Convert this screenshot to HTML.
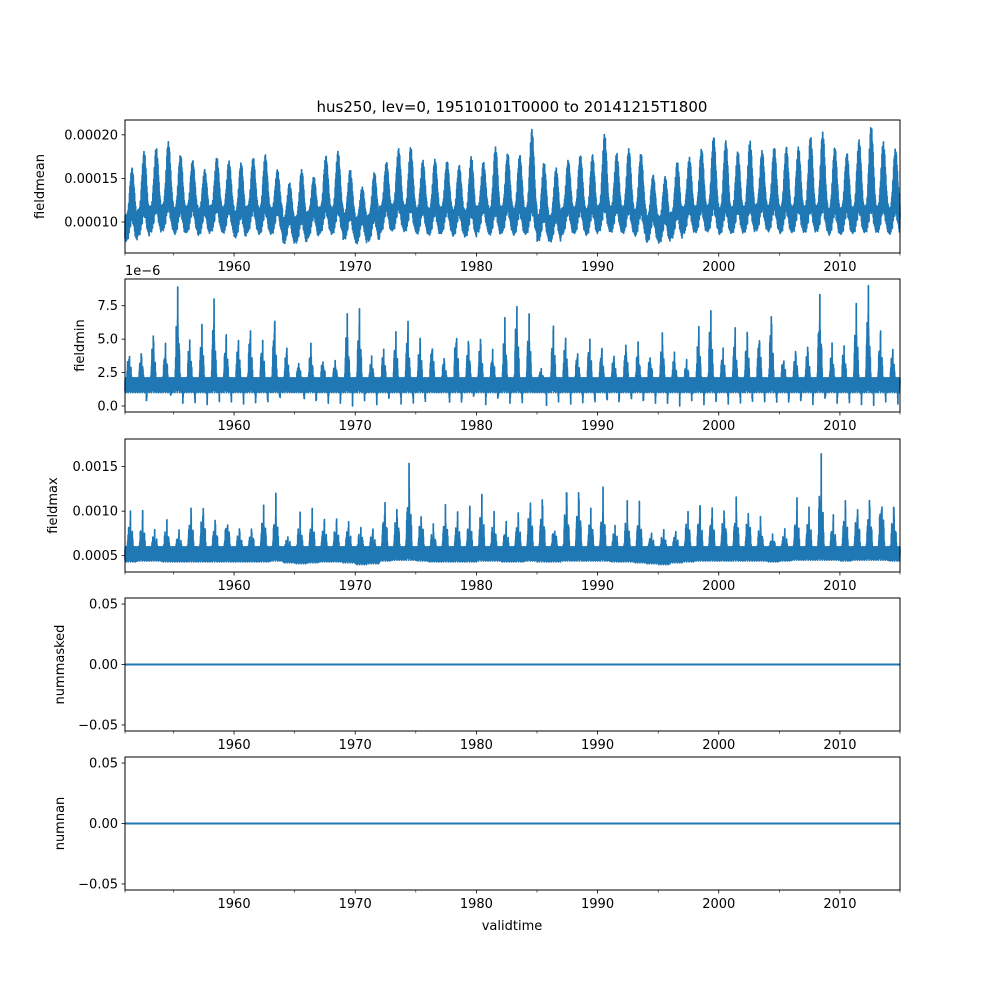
<!DOCTYPE html>
<html><head><meta charset="utf-8">
<style>
html,body{margin:0;padding:0;background:#fff;}
svg text{font-family:"DejaVu Sans","Liberation Sans",sans-serif;fill:#000;}
</style></head>
<body>
<svg id="fig" width="1000" height="1000" viewBox="0 0 1000 1000" xmlns="http://www.w3.org/2000/svg">
<rect width="1000" height="1000" fill="#fff"/>
<text x="512" y="112" font-size="15" text-anchor="middle">hus250, lev=0, 19510101T0000 to 20141215T1800</text>
<text x="512" y="930" font-size="13" text-anchor="middle">validtime</text>
<g id="plots"></g>
</svg>
<script>
// ---- data (annual values, 1951..2014) ----
const years = [1951,1952,1953,1954,1955,1956,1957,1958,1959,1960,1961,1962,1963,1964,1965,1966,1967,1968,1969,1970,1971,1972,1973,1974,1975,1976,1977,1978,1979,1980,1981,1982,1983,1984,1985,1986,1987,1988,1989,1990,1991,1992,1993,1994,1995,1996,1997,1998,1999,2000,2001,2002,2003,2004,2005,2006,2007,2008,2009,2010,2011,2012,2013,2014];
// fieldmean (x1e-5): summer peak and winter trough
const meanPeak = [16.2,18.1,18.5,19.2,17.7,17.1,16.0,17.4,17.0,16.8,17.4,17.7,16.0,14.5,16.0,15.2,17.6,18.1,16.0,14.0,15.7,16.9,18.4,18.6,17.1,17.2,17.0,16.5,17.5,16.9,18.6,17.9,17.7,20.6,16.8,16.2,17.1,17.7,17.7,20.1,17.9,18.4,17.9,15.4,15.2,16.9,17.4,18.4,19.8,19.3,18.1,19.3,18.2,18.6,18.6,18.6,19.8,20.3,18.6,17.9,19.4,21.0,19.2,18.4];
const meanTrough = [7.6,8.2,8.6,8.8,8.4,8.6,8.3,8.7,8.5,8.0,8.6,8.4,8.4,7.3,7.4,8.0,8.5,8.4,7.8,7.3,7.6,8.6,8.8,8.7,8.4,8.3,8.5,8.2,8.1,8.6,8.3,8.6,8.3,8.4,7.6,7.5,8.4,8.5,8.3,8.7,8.6,8.5,8.2,7.5,7.4,7.9,8.5,8.6,8.7,8.4,8.5,8.6,8.8,8.7,8.5,8.6,8.6,8.7,8.3,8.4,8.5,8.6,8.6,8.4];
// fieldmin (x1e-6): annual spike and dip
const minPeak = [4.5,4.3,5.8,5.0,8.9,5.5,6.2,8.0,5.7,5.4,6.3,5.5,7.1,4.8,3.5,4.8,3.8,3.5,7.1,7.6,3.8,4.6,5.8,6.5,5.5,5.2,3.8,6.5,5.4,5.5,4.5,6.6,8.4,7.0,2.8,6.4,5.6,4.3,5.6,4.7,4.1,5.2,4.9,4.2,5.7,4.1,3.6,6.1,7.8,4.5,6.0,6.0,6.0,7.5,4.0,4.5,4.8,9.0,4.7,5.0,7.8,9.0,6.0,4.6];
const minDip = [1.0,0.0,1.0,0.4,0.0,0.0,0.0,0.3,0.0,0.0,0.0,0.0,0.3,1.0,0.0,0.0,0.0,0.0,0.0,0.0,0.0,0.3,0.0,0.0,0.0,1.0,0.0,0.0,0.5,0.0,0.0,0.0,0.0,1.0,0.0,0.0,0.0,0.0,0.0,0.0,0.0,0.0,0.0,0.0,0.0,0.0,0.0,0.0,0.0,0.0,0.0,0.0,0.0,0.0,0.0,0.0,0.0,0.0,0.0,0.0,0.0,0.0,0.0,0.0];
// fieldmax (x1e-4): annual spike
const maxPeak = [10.3,10.3,8.3,9.3,8.0,11.0,12.1,9.7,10.2,8.6,8.5,11.3,12.0,7.5,10.0,10.3,9.5,9.9,9.5,8.8,8.5,12.0,11.6,15.9,10.9,8.8,11.0,10.2,10.8,12.7,10.3,9.0,10.4,12.9,12.6,9.0,13.8,13.6,10.9,12.7,9.0,11.3,11.1,7.8,8.4,8.2,11.1,11.7,11.3,11.4,11.9,11.4,9.7,7.5,8.2,11.8,11.1,17.3,9.8,11.9,11.9,12.5,13.6,11.7];
const maxBase = [4.3,4.4,4.4,4.3,4.3,4.3,4.3,4.3,4.3,4.3,4.3,4.3,4.4,4.2,4.1,4.2,4.3,4.3,4.2,4.0,4.1,4.4,4.5,4.5,4.4,4.3,4.3,4.3,4.3,4.4,4.4,4.3,4.3,4.4,4.3,4.3,4.4,4.4,4.4,4.4,4.3,4.3,4.2,4.1,4.0,4.2,4.3,4.4,4.4,4.4,4.4,4.4,4.4,4.3,4.4,4.5,4.5,4.5,4.5,4.4,4.5,4.5,4.5,4.4];
const nummasked = [0,0];
const numnan = [0,0];
const noise = [0.1,0.85,0.3,1.0,0.05,0.7,0.2,0.9,0.45,0.95,0.0,0.6,0.35,0.8,0.15,1.0,0.5,0.75,0.25,0.9,0.05,0.65,0.4,0.55,0.12,0.98,0.28];
const xTicks = [1960,1970,1980,1990,2000,2010];
const xMinor = [1955,1965,1975,1985,1995,2005];

const NS="http://www.w3.org/2000/svg";
const root=document.getElementById('plots');
const X0=125,X1=900,T0=1951.0,T1=2014.958;
const xs=t=>X0+(t-T0)/(T1-T0)*(X1-X0);
function mk(tag,attrs,parent){const e=document.createElementNS(NS,tag);for(const k in attrs)e.setAttribute(k,attrs[k]);(parent||root).appendChild(e);return e;}

const panels=[
 {name:'fieldmean',top:120,bot:253,min:6.45,max:21.7,ticks:[10,15,20],labels:['0.00010','0.00015','0.00020'],lx:44},
 {name:'fieldmin',top:279,bot:412,min:-0.45,max:9.5,ticks:[0,2.5,5,7.5],labels:['0.0','2.5','5.0','7.5'],lx:84},
 {name:'fieldmax',top:439,bot:572,min:3.17,max:18.1,ticks:[5,10,15],labels:['0.0005','0.0010','0.0015'],lx:57},
 {name:'nummasked',top:598,bot:731,min:-0.055,max:0.055,ticks:[-0.05,0,0.05],labels:['\u22120.05','0.00','0.05'],lx:64},
 {name:'numnan',top:757,bot:890,min:-0.055,max:0.055,ticks:[-0.05,0,0.05],labels:['\u22120.05','0.00','0.05'],lx:64}
];
const G=(p,c,w)=>Math.exp(-Math.pow((p-c)/w,2));

function seriesPoints(pi){
  const pts=[];const step=1/140;let k=0;
  for(let t=T0;t<=T1;t+=step,k++){
    const i=Math.min(years.length-1,Math.floor(t-T0));const p=t-Math.floor(t);
    const n=noise[k%noise.length];let v;
    if(pi===0){
      const s=0.5-0.5*Math.cos(2*Math.PI*(p-0.08));const s2=Math.pow(s,1.6);
      const tr=meanTrough[i],pk=meanPeak[i];
      const lo=tr+2.2*s2+0.2;const hi=tr+3.2+(pk-tr-3.2)*s2;
      v=lo+(hi-lo)*n;
    }else if(pi===1){
      const d1=G(p,0.35,0.035);const d2=0.6*G(p,0.24,0.06);const d3=0.4*G(p,0.47,0.05);
      const dip=G(p,0.78,0.025);
      const hi=2.1+(minPeak[i]-2.1)*Math.max(d1,d2,d3);const lo=1.0-(1.0-minDip[i])*dip;
      v=lo+(hi-lo)*n;
    }else{
      const d1=G(p,0.45,0.03);const d2=0.5*G(p,0.3,0.07);const d3=0.4*G(p,0.6,0.05);
      const hi=6.0+(maxPeak[i]-6.0)*Math.max(d1,d2,d3);const lo=maxBase[i];
      v=lo+(hi-lo)*n;
    }
    pts.push([t,v]);
  }
  return pts;
}

panels.forEach((P,pi)=>{
  const g=mk('g',{});
  
  
  const ys=v=>P.bot-(v-P.min)/(P.max-P.min)*(P.bot-P.top);
  let pts;
  if(pi<3) pts=seriesPoints(pi);
  else { const vals=pi===3?nummasked:numnan; pts=[[T0,vals[0]],[T1,vals[1]]]; }
  const line=mk('polyline',{points:pts.map(q=>xs(q[0]).toFixed(2)+','+ys(q[1]).toFixed(2)).join(' '),fill:'none',stroke:'#1f77b4','stroke-width':pi<3?1.7:2,'stroke-linejoin':'round'},g);
  
  
  const fr=mk('rect',{x:X0,y:P.top,width:X1-X0,height:P.bot-P.top,fill:'none',stroke:'#000','stroke-width':1},g);
  
  
  P.ticks.forEach((tv,j)=>{
    const y=ys(tv);
    mk('line',{x1:X0-3.5,x2:X0,y1:y,y2:y,stroke:'#000','stroke-width':0.8},g);
    const tx=mk('text',{x:X0-7,y:y+4.5,'font-size':13,'text-anchor':'end'},g);
    tx.textContent=P.labels[j];
    
    
  });
  xTicks.forEach(yr=>{
    const x=xs(yr);
    mk('line',{x1:x,x2:x,y1:P.bot,y2:P.bot+3.5,stroke:'#000','stroke-width':0.8},g);
    const tx=mk('text',{x:x,y:P.bot+18,'font-size':13,'text-anchor':'middle'},g);
    tx.textContent=String(yr);
    
    
  });
  xMinor.concat([T0,T1]).forEach(yr=>{
    const x=xs(yr);
    mk('line',{x1:x,x2:x,y1:P.bot,y2:P.bot+2.5,stroke:'#000','stroke-width':0.6},g);
  });
  const yl=mk('text',{x:P.lx,y:(P.top+P.bot)/2,'font-size':13,'text-anchor':'middle',transform:'rotate(-90 '+P.lx+' '+((P.top+P.bot)/2)+')'},g);
  yl.textContent=P.name;
  
  
  if(pi===1){
    const off=mk('text',{x:X0,y:P.top-4,'font-size':13},g);
    off.textContent='1e\u22126';
    
    
  }
});
</script>
</body></html>
